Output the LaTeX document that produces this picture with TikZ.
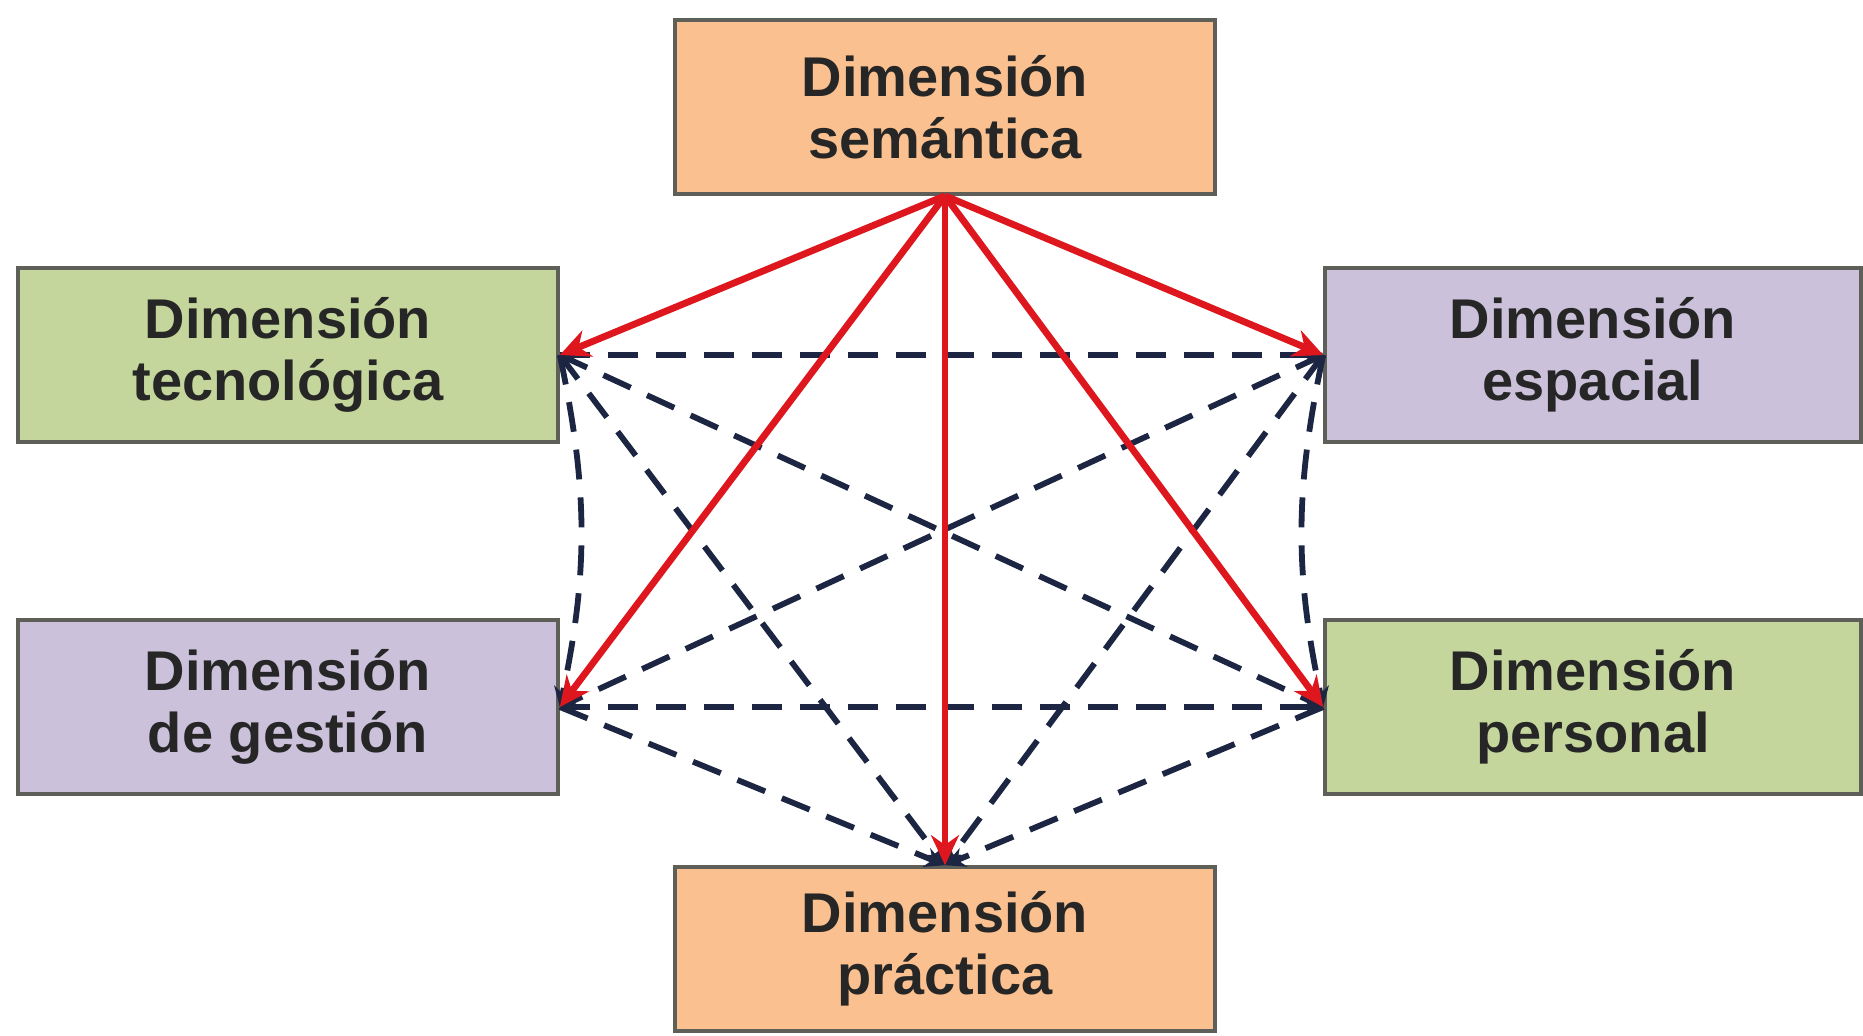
\documentclass[tikz,border=0pt]{standalone}
\usepackage{fontspec}
\setmainfont{Liberation Sans}
\usetikzlibrary{arrows.meta}
\definecolor{peach}{RGB}{250,192,143}
\definecolor{sage}{RGB}{196,214,155}
\definecolor{lilac}{RGB}{204,193,218}
\definecolor{boxline}{RGB}{95,95,90}
\definecolor{redline}{RGB}{222,22,30}
\definecolor{navy}{RGB}{28,38,66}
\tikzset{
  dimbox/.style={draw=boxline, line width=1.8pt, minimum width=270pt, minimum height=87pt,
    inner sep=0pt, align=center, font=\fontsize{28}{31}\selectfont\bfseries, text=black!85},
  redarrow/.style={draw=redline, line width=3.4pt, -{Stealth[length=15pt,width=14pt]}},
  dasharrow/.style={draw=navy, line width=2.9pt, dash pattern=on 15pt off 9pt,
    -{Stealth[length=10pt,width=10pt]}}
}
\begin{document}
\begin{tikzpicture}[x=0.5pt,y=0.5pt]
\useasboundingbox (0,0) rectangle (1863,-1035);
\node[dimbox, fill=peach] (sem) at (945,-107) {Dimensión\\semántica};
\node[dimbox, fill=sage] (tec) at (288,-355) {Dimensión\\tecnológica};
\node[dimbox, fill=lilac, minimum width=268pt] (esp) at (1593,-355) {Dimensión\\espacial};
\node[dimbox, fill=lilac] (ges) at (288,-707) {Dimensión\\de gestión};
\node[dimbox, fill=sage, minimum width=268pt] (per) at (1593,-707) {Dimensión\\personal};
\node[dimbox, fill=peach, minimum height=82pt] (pra) at (945,-949) {Dimensión\\práctica};
% dashed connectors
\draw[dasharrow] (tec.east) -- (esp.west);
\draw[dasharrow] (tec.east) to[bend left=12] (ges.east);
\draw[dasharrow] (tec.east) -- (per.west);
\draw[dasharrow] (tec.east) -- (pra.north);
\draw[dasharrow] (esp.west) -- (ges.east);
\draw[dasharrow] (esp.west) to[bend right=12] (per.west);
\draw[dasharrow] (esp.west) -- (pra.north);
\draw[dasharrow] (ges.east) -- (per.west);
\draw[dasharrow] (ges.east) -- (pra.north);
\draw[dasharrow] (per.west) -- (pra.north);
% red arrows
\draw[redarrow] (sem.south) -- (tec.east);
\draw[redarrow] (sem.south) -- (esp.west);
\draw[redarrow] (sem.south) -- (ges.east);
\draw[redarrow] (sem.south) -- (per.west);
\draw[redarrow] (sem.south) -- (pra.north);
\end{tikzpicture}
\end{document}
